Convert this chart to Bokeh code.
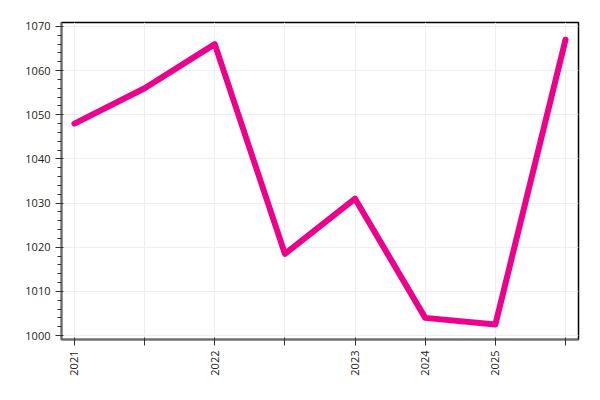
from bokeh.plotting import figure
from bokeh.embed import file_html
from bokeh.resources import INLINE
from bokeh.models import Range1d, FixedTicker
import math

x_idx = [0, 1, 2, 3, 4, 5, 6, 7]
tick_labels = ["2021", "", "2022", "", "2023", "2024", "2025", ""]
values = [1048, 1056, 1066, 1018.5, 1031, 1004, 1002.5, 1067]

p = figure(width=592, height=392, output_backend="svg", toolbar_location=None,
           x_range=Range1d(-0.185, 7.185), y_range=Range1d(999.1, 1070.9),
           min_border_top=22, min_border_right=14, min_border_left=61, min_border_bottom=53)

p.line(x_idx, values, line_color="#EC008C", line_width=6, line_cap="round", line_join="round")

p.xaxis.ticker = FixedTicker(ticks=x_idx)
p.xaxis.major_label_overrides = {i: l for i, l in zip(x_idx, tick_labels)}
p.xaxis.major_label_orientation = math.pi / 2
p.yaxis.ticker.desired_num_ticks = 8

for ax in (p.xaxis, p.yaxis):
    ax.major_label_text_font = "Open Sans"
    ax.major_label_text_font_size = "11px"
    ax.major_label_text_color = "#222222"
    ax.axis_line_color = "#6e6e6e"
    ax.axis_line_width = 2
    ax.major_tick_line_color = "#333333"
    ax.minor_tick_line_color = "#333333"

p.xaxis.minor_tick_line_color = None
p.outline_line_color = "black"
p.outline_line_width = 1.5
p.outline_line_alpha = 1
p.grid.grid_line_color = "#eeeeee"

open("out.html", "w").write(file_html(p, INLINE))
